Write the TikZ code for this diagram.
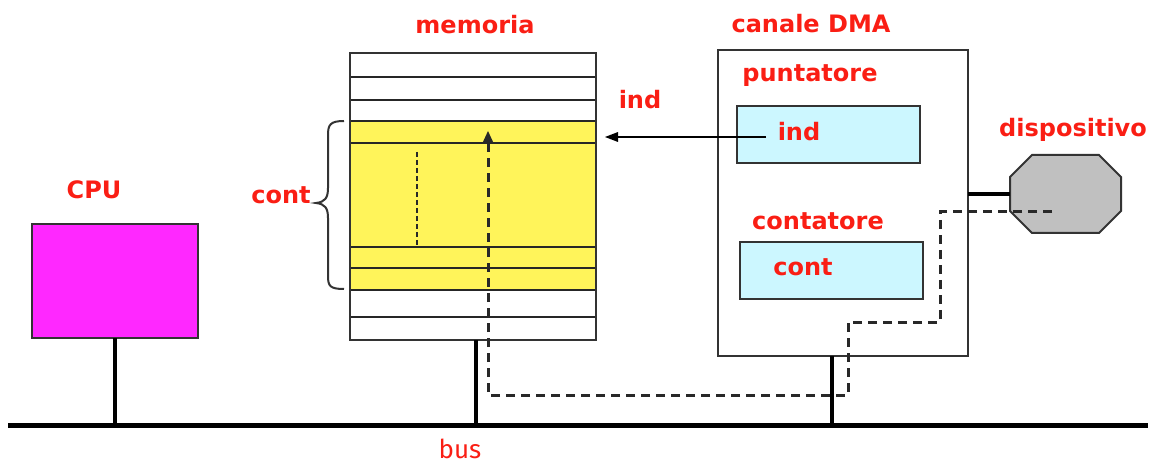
\documentclass[tikz,border=0pt]{standalone}
\usepackage{fontspec}
\setmainfont{DejaVu Sans}
\newfontfamily\busfont{Fira Sans}
\definecolor{labred}{RGB}{250,30,20}
\definecolor{cpufill}{RGB}{255,40,255}
\definecolor{memfill}{RGB}{255,244,90}
\definecolor{regfill}{RGB}{204,247,255}
\definecolor{devfill}{RGB}{192,192,192}
\definecolor{dashgray}{RGB}{40,40,40}
\tikzset{
  lbl/.style={text=labred,font=\fontsize{24}{26}\selectfont\bfseries,inner sep=0pt},
  box/.style={draw=black!80,line width=2pt,inner sep=0pt,outer sep=0pt},
  stem/.style={line width=4.5pt},
  row/.style={line width=2pt,black!85},
  flow/.style={dashgray,line width=3pt,dash pattern=on 9pt off 6pt},
}
\begin{document}
\begin{tikzpicture}[x=1pt,y=-1pt]
\useasboundingbox (0,0) rectangle (1152,465);
% bus
\coordinate (busL) at (8,425);
\coordinate (busR) at (1148,425);
\draw[line width=5pt] (busL) -- (busR);
\node[text=labred,font=\busfont\fontsize{26}{28}\selectfont,inner sep=0pt] (bus) at (460,449) {bus};

% CPU
\node[box,fill=cpufill,minimum width=166pt,minimum height=114pt] (cpu) at (115,281) {};
\node[lbl] (cpulab) at (94,190) {CPU};
\draw[stem] (cpu.south) -- (cpu.south |- busL);

% memory
\node[box,minimum width=246pt,minimum height=287pt] (mem) at (473,196.5) {};
\fill[memfill] (350,121) rectangle (596,290);
\foreach \y in {77,100,121,143,247,268,290,317}
  \draw[row] (350,\y) -- (596,\y);
\node[box,minimum width=246pt,minimum height=287pt] at (473,196.5) {};
\node[lbl] (memlab) at (475,25) {memoria};
\coordinate (memfoot) at (476,340);
\draw[stem] (memfoot) -- (memfoot |- busL);
% brace over the block of cont words
\draw[line width=2pt,black!80] (344,121) .. controls (330,121) and (328,125) .. (328,135)
  -- (328,188) .. controls (328,198) and (325,202) .. (316,203)
  .. controls (325,204) and (328,208) .. (328,218)
  -- (328,276) .. controls (328,286) and (330,289) .. (344,289);
\node[lbl] (contlab) at (281,195) {cont};
\coordinate (dotA) at (417,152);
\coordinate (dotB) at (417,247);
\draw[dashgray,line width=2.4pt,dash pattern=on 5pt off 3pt] (dotA) -- (dotB);
\node[lbl] (indlab) at (640,100) {ind};

% DMA channel
\node[box,minimum width=250pt,minimum height=306pt] (dma) at (843,203) {};
\node[lbl] (dmalab) at (811,24) {canale DMA};
\node[lbl] (puntlab) at (810,76) {puntatore};
\node[box,fill=regfill,minimum width=183pt,minimum height=57pt] (indbox) at (828.5,134.5) {};
\node[lbl] (indtxt) at (799,132) {ind};
\node[lbl] (contatlab) at (818,221) {contatore};
\node[box,fill=regfill,minimum width=183pt,minimum height=57pt] (contbox) at (831.5,270.5) {};
\node[lbl] (conttxt) at (803,267) {cont};
\coordinate (dmafoot) at (832,356);
\draw[stem] (dmafoot) -- (dmafoot |- busL);
% pointer arrow towards the addressed word
\coordinate (ptrS) at (766,137);
\coordinate (ptrE) at (605,137);
\draw[line width=1.6pt] (ptrS) -- ([xshift=8pt]ptrE);
\fill (ptrE) -- ([xshift=13pt,yshift=5pt]ptrE) -- ([xshift=13pt,yshift=-5pt]ptrE) -- cycle;

% device: an octagon drawn on the corners of a frame node
\node[inner sep=0pt,outer sep=0pt,minimum width=111pt,minimum height=78pt] (dev) at (1065.5,194) {};
\draw[black!80,line width=2pt,fill=devfill]
  ([xshift=22pt]dev.north west) -- ([xshift=-22pt]dev.north east)
  -- ([yshift=-22pt]dev.north east) -- ([yshift=22pt]dev.south east)
  -- ([xshift=-22pt]dev.south east) -- ([xshift=22pt]dev.south west)
  -- ([yshift=22pt]dev.south west) -- ([yshift=-22pt]dev.north west) -- cycle;
\node[lbl] (devlab) at (1073,130) {dispositivo};
\draw[stem] (dev.west) -- (dev.west -| dma.east);

% transfer path from device to memory
\coordinate (p0) at (1052,212);
\coordinate (p1) at (940,212);
\coordinate (p2) at (940,322);
\coordinate (p3) at (848,322);
\coordinate (p4) at (848,395);
\coordinate (p5) at (488,395);
\coordinate (p6) at (488,140);
\coordinate (p7) at (488,131);
\draw[flow] (p0) -- (p1) -- (p2) -- (p3) -- (p4) -- (p5) -- (p6);
\fill[dashgray] (p7) -- ([xshift=6pt,yshift=-13pt]p7) -- ([xshift=-6pt,yshift=-13pt]p7) -- cycle;
\end{tikzpicture}
\end{document}
